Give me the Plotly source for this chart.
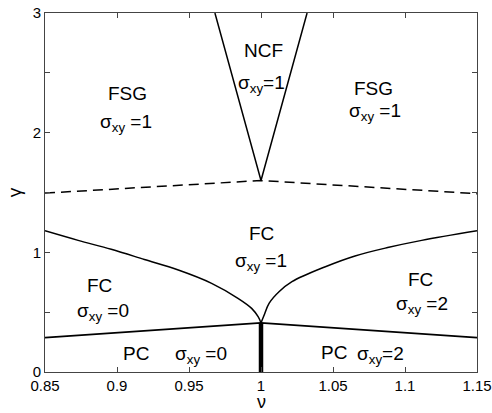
import plotly.graph_objects as go

# Phase boundaries
dash_nu = [0.85, 1.0, 1.15]
dash_gamma = [1.495, 1.60, 1.49]

ncf_nu = [0.968, 1.0, 1.032]
ncf_gamma = [3.0, 1.60, 3.0]

fc_left_nu = [0.85, 0.873, 0.896, 0.919, 0.9426, 0.9657, 0.984, 0.9935, 0.998, 1.0]
fc_left_gamma = [1.18, 1.10, 1.025, 0.94, 0.852, 0.741, 0.616, 0.532, 0.462, 0.41]

fc_right_nu = [1.0, 1.002, 1.0056, 1.0125, 1.0215, 1.0447, 1.0653, 1.088, 1.1116, 1.15]
fc_right_gamma = [0.41, 0.47, 0.574, 0.671, 0.755, 0.88, 0.97, 1.04, 1.10, 1.18]

pc_nu = [0.85, 1.0, 1.15]
pc_gamma = [0.288, 0.41, 0.288]

thick_nu = [1.0, 1.0]
thick_gamma = [0.0, 0.41]

labels = [
    (0.907, 2.33, "FSG"), (0.906, 2.08, "σ<sub>xy</sub> =1"),
    (1.002, 2.69, "NCF"), (1.0, 2.41, "σ<sub>xy</sub>=1"),
    (1.078, 2.37, "FSG"), (1.079, 2.17, "σ<sub>xy</sub> =1"),
    (1.0, 1.16, "FC"), (1.0, 0.92, "σ<sub>xy</sub> =1"),
    (0.8875, 0.727, "FC"), (0.890, 0.50, "σ<sub>xy</sub> =0"),
    (1.111, 0.777, "FC"), (1.112, 0.56, "σ<sub>xy</sub> =2"),
    (0.913, 0.158, "PC"), (0.958, 0.14, "σ<sub>xy</sub> =0"),
    (1.051, 0.167, "PC"), (1.083, 0.14, "σ<sub>xy</sub>=2"),
]

x_ticks = [0.85, 0.9, 0.95, 1.0, 1.05, 1.1, 1.15]
x_ticktext = ["0.85", "0.9", "0.95", "1", "1.05", "1.1", "1.15"]
y_ticks = [0, 0.5, 1, 1.5, 2, 2.5, 3]
y_ticktext = ["0", "", "1", "", "2", "", "3"]

fig = go.Figure()
line = dict(color="black", width=1.5)
fig.add_trace(go.Scatter(x=dash_nu, y=dash_gamma, mode="lines",
                         line=dict(color="black", width=1.5, dash="10px,6px")))
fig.add_trace(go.Scatter(x=ncf_nu, y=ncf_gamma, mode="lines", line=line))
fig.add_trace(go.Scatter(x=fc_left_nu, y=fc_left_gamma, mode="lines", line=dict(color="black", width=1.5, shape="spline")))
fig.add_trace(go.Scatter(x=fc_right_nu, y=fc_right_gamma, mode="lines", line=dict(color="black", width=1.5, shape="spline")))
fig.add_trace(go.Scatter(x=pc_nu, y=pc_gamma, mode="lines", line=dict(color="black", width=1.8)))
fig.add_trace(go.Scatter(x=thick_nu, y=thick_gamma, mode="lines", line=dict(color="black", width=4.5)))

annotations = []
for x, y, t in labels:
    annotations.append(dict(x=x, y=y, text=t, showarrow=False, xref="x", yref="y",
                            font=dict(size=19, color="black")))
annotations.append(dict(x=-0.07, y=0.5, xref="paper", yref="paper", text="γ", showarrow=False,
                        xanchor="center", yanchor="middle",
                        textangle=-90, font=dict(size=19, color="black")))
annotations.append(dict(x=0.5, y=-0.084, xref="paper", yref="paper", text="ν", showarrow=False,
                        xanchor="center", yanchor="middle",
                        font=dict(size=18, color="black")))

axis_common = dict(showgrid=False, zeroline=False, showline=True, linecolor="#444", linewidth=1,
                   ticks="inside", ticklen=5, tickcolor="#444", mirror="ticks", automargin=False,
                   tickfont=dict(size=15, color="black"))

fig.update_layout(
    width=492, height=413,
    margin=dict(l=45, r=15, t=13, b=41),
    paper_bgcolor="white", plot_bgcolor="white",
    showlegend=False,
    font=dict(family="Liberation Sans, Arial, sans-serif", color="black"),
    xaxis=dict(range=[0.85, 1.15], tickvals=x_ticks, ticktext=x_ticktext, **axis_common),
    yaxis=dict(range=[0, 3], tickvals=y_ticks, ticktext=y_ticktext, **axis_common),
    annotations=annotations,
)

fig.write_html("out.html")
